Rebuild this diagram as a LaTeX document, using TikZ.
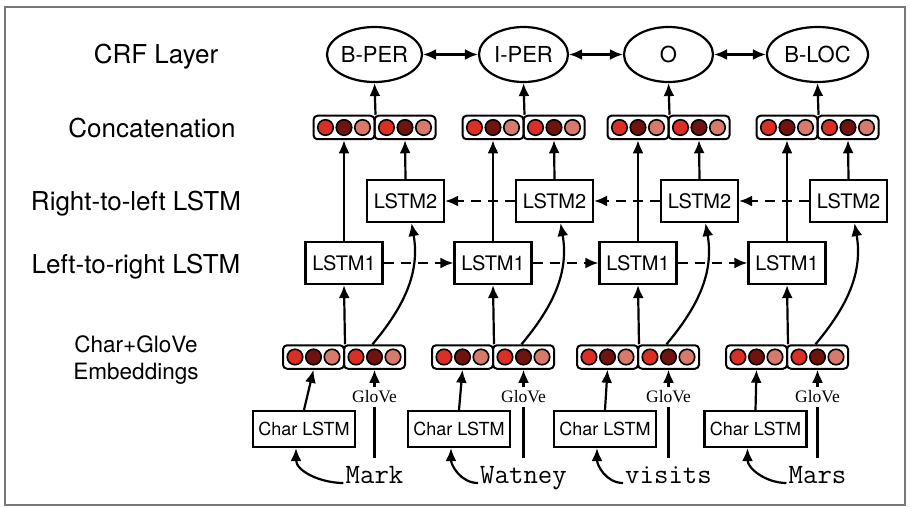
\documentclass[tikz,border=0pt]{standalone}
\usepackage{fontspec}
\usetikzlibrary{arrows.meta,shapes.geometric}
\newfontfamily\hv{TeX Gyre Heros}
\newfontfamily\tms{Liberation Serif}
\definecolor{ra}{RGB}{221,46,36}
\definecolor{rb}{RGB}{112,18,14}
\definecolor{rc}{RGB}{215,122,108}
\definecolor{framegray}{RGB}{120,120,120}
\newcommand\mkvec[3]{%
  \node[vbox] (#1) at (#2,#3) {};
  \node[dot,fill=ra] (#1a) at ([xshift=-18.5pt]#1.center) {};
  \node[dot,fill=rb] (#1b) at (#1.center) {};
  \node[dot,fill=rc] (#1c) at ([xshift=18.5pt]#1.center) {};
}
\begin{document}
\begin{tikzpicture}[x=1pt,y=1pt,
  lw/.style={line width=2.2pt},
  arr/.style={lw,-{Latex[length=13pt,width=11pt]}},
  dasharr/.style={arr,dash pattern=on 10pt off 7pt},
  dbl/.style={lw,{Latex[length=13pt,width=11pt]}-{Latex[length=13pt,width=11pt]}},
  lbl/.style={font=\hv\fontsize{26}{30}\selectfont},
  lstm/.style={draw,lw,minimum width=77pt,minimum height=42pt,inner sep=0pt,font=\hv\fontsize{20}{24}\selectfont},
  charbox/.style={draw,lw,minimum width=102pt,minimum height=36pt,inner sep=0pt,font=\hv\fontsize{18}{22}\selectfont},
  crf/.style={draw,lw,ellipse,minimum height=55pt,inner sep=0pt,font=\hv\fontsize{22}{26}\selectfont},
  vbox/.style={draw,line width=2pt,rounded corners=4pt,minimum width=61pt,minimum height=23.5pt,inner sep=0pt},
  dot/.style={circle,draw,line width=1.6pt,minimum size=15.5pt,inner sep=0pt},
  glove/.style={font=\tms\fontsize{17.5}{20}\selectfont,inner sep=3.5pt},
  word/.style={font=\ttfamily\fontsize{28}{32}\selectfont,inner sep=0pt,text height=14pt,text depth=0pt,anchor=base},
]
\useasboundingbox (0,0) rectangle (910,-508);
\draw[framegray,line width=1.3pt] (5,-7) rectangle (905,-505);

\node[lbl] (tcrf) at (156,-57) {CRF Layer};
\node[lbl] (tcat) at (152,-128) {Concatenation};
\node[lbl] (trl) at (136,-204) {Right-to-left LSTM};
\node[lbl] (tlr) at (136,-267) {Left-to-right LSTM};
\node[font=\hv\fontsize{22.5}{27}\selectfont,align=center] (temb) at (136,-360) {Char+GloVe\\Embeddings};

\foreach \i/\J/\cx/\lab/\ew/\wrd in {1/344/304/B-PER/89/Mark,2/493/459/I-PER/89/Watney,3/638/605/O/89/visits,4/787/755.5/B-LOC/101/Mars}{
  \node[crf,minimum width=\ew pt] (crf\i) at (\J+30.5,-54.5) {\lab};
  \mkvec{cl\i}{\J}{-127.5}
  \mkvec{cr\i}{\J+61}{-127.5}
  \node[lstm] (lb\i) at (\J+61.5,-201) {LSTM2};
  \node[lstm] (la\i) at (\J,-263) {LSTM1};
  \mkvec{el\i}{\J-30.5}{-357}
  \mkvec{er\i}{\J+30.5}{-357}
  \node[glove] (g\i) at (\J+30.5,-397) {GloVe};
  \node[charbox] (ch\i) at (\cx,-429) {Char LSTM};
  \node[word] (w\i) at (\J+30.5,-483) {\wrd};
  \draw[arr] (cl\i.north east) -- (crf\i.south);
  \draw[arr] (la\i.north) -- (cl\i.south);
  \draw[arr] (lb\i.north) -- (cr\i.south);
  \draw[arr] (el\i.north east) -- (la\i.south);
  \draw[arr] ([xshift=-2pt]er\i.north) to[out=50,in=-80] ([xshift=6pt]lb\i.south);
  \draw[arr] (g\i.north) -- (er\i.south);
  \draw[lw] (g\i.south) -- ([yshift=11pt]w\i.north);
  \draw[arr] (ch\i.north) -- (el\i.south);
  \draw[arr] ([xshift=-2pt]w\i.base west) to[out=180,in=-90] ([xshift=-8pt]ch\i.south);
}
\draw[dbl] (crf1.east) -- (crf2.west);
\draw[dbl] (crf2.east) -- (crf3.west);
\draw[dbl] (crf3.east) -- (crf4.west);
\draw[dasharr] (la1.east) -- (la2.west);
\draw[dasharr] (la2.east) -- (la3.west);
\draw[dasharr] (la3.east) -- (la4.west);
\draw[dasharr] (lb2.west) -- (lb1.east);
\draw[dasharr] (lb3.west) -- (lb2.east);
\draw[dasharr] (lb4.west) -- (lb3.east);
\end{tikzpicture}
\end{document}
